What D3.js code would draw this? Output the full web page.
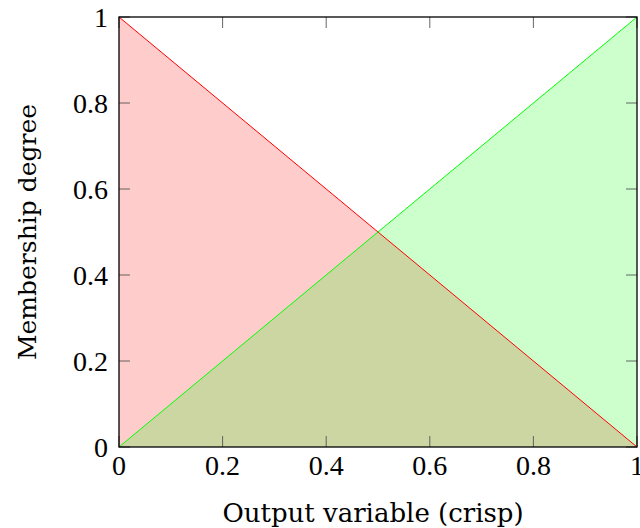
<!DOCTYPE html>
<html>
<head>
<meta charset="utf-8">
<script src="https://cdn.jsdelivr.net/npm/d3@7"></script>
<style>
  body { margin: 0; background: #fff; }
  text { font-family: "Liberation Serif", serif; }
  .lab { font-family: "DejaVu Serif", serif; }
</style>
</head>
<body>
<script>
// membership functions (output variable)
const xVals = [0, 1];
const lowVals = [1, 0];   // red, decreasing
const highVals = [0, 1];  // green, increasing
const xTicks = [0, 0.2, 0.4, 0.6, 0.8, 1];
const yTicks = [0, 0.2, 0.4, 0.6, 0.8, 1];

const outerWidth = 640, outerHeight = 528;
const margin = {top: 17, left: 119, bottom: 81, right: 3};
const width = outerWidth - margin.left - margin.right;
const height = outerHeight - margin.top - margin.bottom;

const svg = d3.select('body').append('svg')
    .attr('width', outerWidth)
    .attr('height', outerHeight);

const g = svg.append('g').attr('transform', `translate(${margin.left},${margin.top})`);

const x = d3.scaleLinear().domain([0, 1]).range([0, width]);
const y = d3.scaleLinear().domain([0, 1]).range([height, 0]);

const low = xVals.map((d, i) => ({x: d, y: lowVals[i]}));
const high = xVals.map((d, i) => ({x: d, y: highVals[i]}));

const area = d3.area().x(d => x(d.x)).y0(y(0)).y1(d => y(d.y));
const line = d3.line().x(d => x(d.x)).y(d => y(d.y));

g.append('path').datum(low).attr('d', area).attr('fill', 'red').attr('fill-opacity', 0.2);
g.append('path').datum(high).attr('d', area).attr('fill', 'lime').attr('fill-opacity', 0.2);
g.append('path').datum(low).attr('d', line).attr('fill', 'none').attr('stroke', 'red').attr('stroke-width', 1);
g.append('path').datum(high).attr('d', line).attr('fill', 'none').attr('stroke', 'lime').attr('stroke-width', 1);

// ticks on all four sides, pointing inward
const tl = 11;
const tickG = g.append('g').attr('stroke', '#555').attr('stroke-width', 0.9);
xTicks.forEach(t => {
  tickG.append('line').attr('x1', x(t)).attr('x2', x(t)).attr('y1', height).attr('y2', height - tl);
  tickG.append('line').attr('x1', x(t)).attr('x2', x(t)).attr('y1', 0).attr('y2', tl);
});
yTicks.forEach(t => {
  tickG.append('line').attr('x1', 0).attr('x2', tl).attr('y1', y(t)).attr('y2', y(t));
  tickG.append('line').attr('x1', width).attr('x2', width - tl).attr('y1', y(t)).attr('y2', y(t));
});

// frame
g.append('rect').attr('width', width).attr('height', height)
  .attr('fill', 'none').attr('stroke', '#000').attr('stroke-width', 1.3);

// tick labels
g.selectAll('.xl').data(xTicks).join('text')
  .attr('x', d => x(d)).attr('y', height + 28)
  .attr('text-anchor', 'middle').attr('font-size', 28)
  .text(d => d3.format('')(d));
g.selectAll('.yl').data(yTicks).join('text')
  .attr('x', -11).attr('y', d => y(d)).attr('dy', '0.34em')
  .attr('text-anchor', 'end').attr('font-size', 28)
  .text(d => d3.format('')(d));

// axis labels
svg.append('text').attr('class', 'lab').attr('x', 373).attr('y', 522)
  .attr('text-anchor', 'middle').attr('font-size', 26)
  .text('Output variable (crisp)');
svg.append('text').attr('class', 'lab').attr('transform', 'translate(36,232) rotate(-90)')
  .attr('text-anchor', 'middle').attr('font-size', 25)
  .text('Membership degree');
</script>
</body>
</html>
